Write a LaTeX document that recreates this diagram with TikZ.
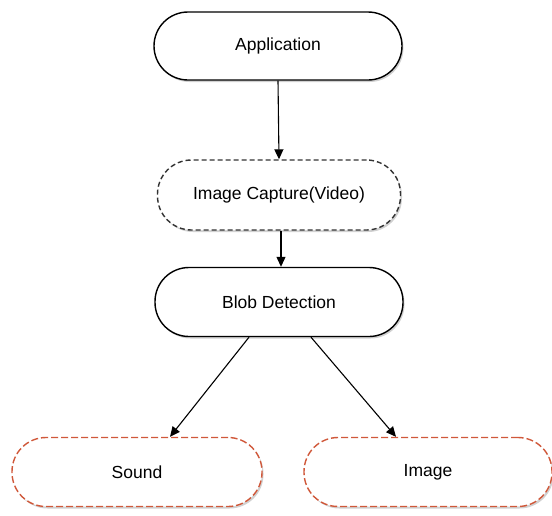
\documentclass[tikz,border=0pt]{standalone}
\usepackage{fontspec}
\setmainfont{Liberation Sans}
\usetikzlibrary{shadows,arrows.meta}
\definecolor{redline}{RGB}{208,88,58}
\tikzset{
  box/.style={draw=black, line width=1.4pt, fill=white, rounded corners=34pt,
    minimum width=248pt, minimum height=68pt, inner sep=0pt,
    font=\fontsize{17.5}{20}\selectfont,
    drop shadow={shadow xshift=1.5pt, shadow yshift=-2pt, opacity=0.3, fill=black!60}},
  dbox/.style={box, dash pattern=on 5pt off 3pt, draw=black!80},
  rbox/.style={box, draw=redline, dash pattern=on 7pt off 3pt},
  conn/.style={-{Triangle[length=10pt,width=9pt]}, line width=1.1pt}
}
\begin{document}
\begin{tikzpicture}[x=1pt,y=1pt]
\useasboundingbox (0,0) rectangle (552,-515);
\node[box] (app) at (278,-46) {Application};
\node[dbox, minimum width=243pt, minimum height=70pt] (cap) at (279,-195) {Image Capture(Video)};
\node[box, minimum height=69pt] (blob) at (279,-302) {Blob Detection};
\node[rbox, minimum width=250pt, minimum height=69pt] (sound) at (137,-472) {Sound};
\node[rbox, minimum width=248pt, minimum height=69pt] (image) at (428,-472) {Image};
\draw[conn] (app.south) -- (cap.north);
\draw[conn] ([xshift=2pt]cap.south) -- ([xshift=2pt]blob.north);
\draw[conn] ([xshift=-30pt]blob.south) -- ([xshift=33pt]sound.north);
\draw[conn] ([xshift=32pt]blob.south) -- ([xshift=-32pt]image.north);
\end{tikzpicture}
\end{document}
